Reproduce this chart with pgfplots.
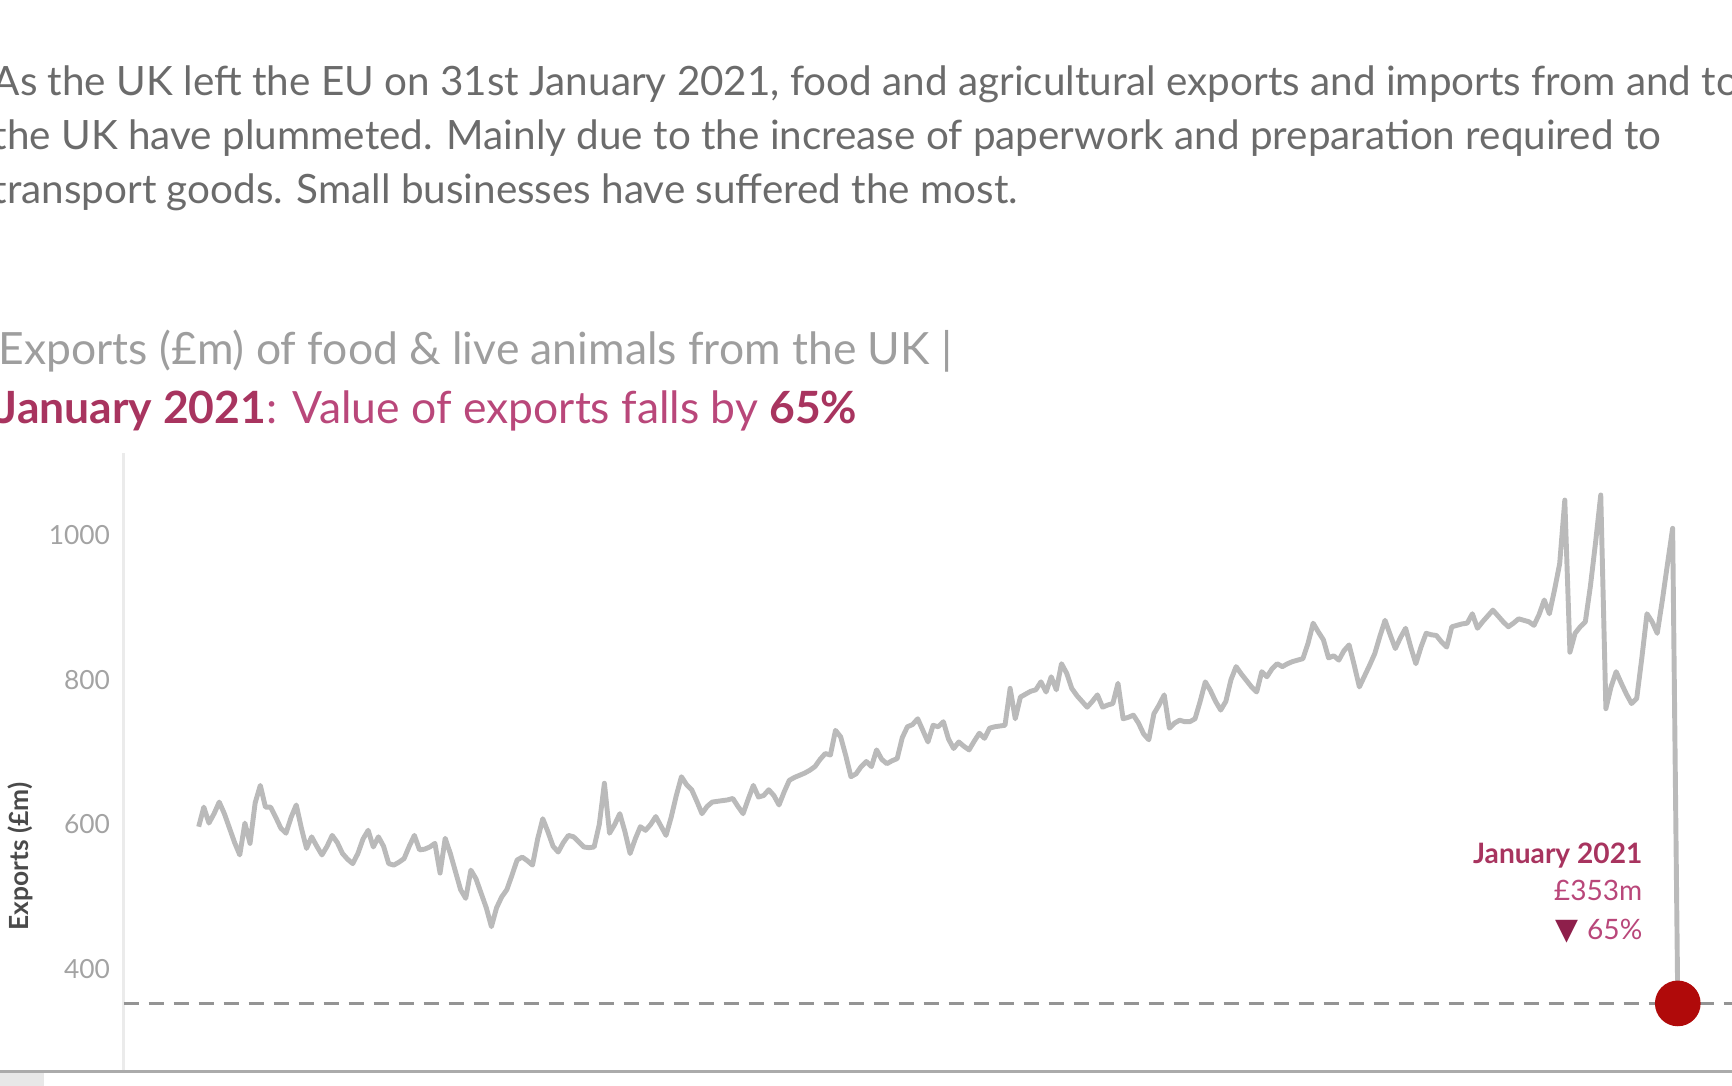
\documentclass[border=0pt]{standalone}
\usepackage{pgfplots}
\pgfplotsset{compat=1.18}
\usepackage{fontspec}
\setmainfont{Lato}
\newfontfamily\symfont{DejaVu Sans}
\definecolor{paratext}{HTML}{6B6B6B}
\definecolor{titlegray}{HTML}{9E9E9E}
\definecolor{crim}{HTML}{B9477A}
\definecolor{crimdark}{HTML}{A8345F}
\definecolor{tri}{HTML}{8E1F4B}
\definecolor{linegray}{HTML}{BABABA}
\definecolor{dotred}{HTML}{B00A0A}
\definecolor{ticklab}{HTML}{A3A3A3}
\definecolor{ylab}{HTML}{4A4A4A}

\pgfplotstableread{
m v
0 597
1 624
2 602
3 615
4 631
5 615
6 595
7 575
8 558
9 602
10 574
11 630
12 654
13 624
14 624
15 610
16 595
17 588
18 610
19 627
20 595
21 567
22 583
23 570
24 558
25 570
26 585
27 575
28 560
29 552
30 546
31 560
32 580
33 592
34 569
35 583
36 570
37 546
38 544
39 548
40 553
41 570
42 585
43 565
44 566
45 569
46 574
47 533
48 581
49 560
50 535
51 510
52 498
53 537
54 525
55 505
56 485
57 459
58 485
59 500
60 510
61 530
62 551
63 555
64 550
65 544
66 580
67 608
68 590
69 570
70 562
71 575
72 585
73 583
74 576
75 569
76 568
77 569
78 600
79 657
80 588
81 600
82 615
83 590
84 560
85 580
86 597
87 592
88 600
89 611
90 598
91 585
92 610
93 640
94 666
95 655
96 648
97 632
98 615
99 625
100 631
101 632
102 633
103 634
104 636
105 625
106 615
107 635
108 654
109 638
110 640
111 648
112 640
113 627
114 645
115 661
116 665
117 668
118 671
119 675
120 680
121 690
122 698
123 696
124 730
125 721
126 695
127 666
128 670
129 680
130 687
131 680
132 703
133 690
134 684
135 688
136 691
137 720
138 735
139 738
140 746
141 730
142 714
143 737
144 735
145 742
146 718
147 705
148 714
149 708
150 703
151 715
152 726
153 719
154 733
155 735
156 736
157 737
158 788
159 746
160 776
161 780
162 784
163 786
164 797
165 783
166 804
167 786
168 822
169 809
170 788
171 778
172 770
173 762
174 770
175 779
176 762
177 765
178 767
179 795
180 746
181 748
182 751
183 740
184 725
185 717
186 753
187 765
188 779
189 733
190 740
191 744
192 742
193 742
194 746
195 770
196 797
197 785
198 770
199 758
200 770
201 800
202 818
203 808
204 799
205 790
206 783
207 811
208 804
209 815
210 822
211 818
212 822
213 825
214 827
215 829
216 850
217 878
218 866
219 855
220 830
221 833
222 827
223 840
224 848
225 820
226 790
227 805
228 820
229 836
230 860
231 882
232 862
233 843
234 858
235 871
236 845
237 822
238 845
239 864
240 862
241 861
242 852
243 845
244 873
245 875
246 877
247 878
248 891
249 871
250 880
251 888
252 896
253 888
254 880
255 873
256 878
257 884
258 882
259 880
260 875
261 890
262 910
263 891
264 924
265 960
266 1048
267 838
268 864
269 873
270 880
271 930
272 990
273 1055
274 760
275 790
276 811
277 795
278 780
279 767
280 774
281 830
282 891
283 880
284 864
285 910
286 960
287 1009
288 353
}\exports

\begin{document}
\begin{tikzpicture}[x=1cm,y=1cm]
\useasboundingbox (0,0) rectangle (17.32,10.86);
% intro paragraph
\begin{scope}[every node/.style={anchor=base west, inner sep=0pt, text=paratext, font=\fontsize{11.5}{14}\selectfont}]
\node at (-0.08,9.90) {As the UK left the EU on 31st January 2021, food and agricultural exports and imports from and to};
\node at (-0.08,9.36) {the UK have plummeted. Mainly due to the increase of paperwork and preparation required to};
\node at (-0.08,8.82) {transport goods. Small businesses have suffered the most.};
\end{scope}
% title
\node[anchor=base west, inner sep=0pt, text=titlegray, font=\fontsize{12.65}{15}\selectfont] at (-0.02,7.215) {Exports (£m) of food \& live animals from the UK |};
\node[anchor=base west, inner sep=0pt, text=crim, font=\fontsize{12.65}{15}\selectfont] at (-0.02,6.62) {\textcolor{crimdark}{\textbf{January 2021}}: Value of exports falls by \textcolor{crimdark}{\textbf{65\%}}};

\begin{axis}[
  at={(1.237cm,0.145cm)}, anchor=south west,
  scale only axis, width=16.08cm, height=6.185cm,
  xmin=-14.6, xmax=298.5, ymin=259, ymax=1113,
  axis x line=none,
  axis y line*=left,
  y axis line style={draw=black!8, line width=0.25mm},
  ytick={400,600,800,1000},
  major tick length=0pt,
  /pgf/number format/1000 sep={},
  /pgf/number format/assume math mode=true,
  yticklabel style={font=\fontsize{7.5}{9}\selectfont, text=ticklab, inner sep=0pt, xshift=-1.3mm},
  ylabel={\textbf{Exports (£m)}},
  ylabel style={font=\fontsize{7.5}{9}\selectfont, text=ylab, at={(axis description cs:-0.0645,0.348)}, anchor=center},
  clip=false,
]
\addplot[draw=black!42, dash pattern=on 1.5mm off 1mm, line width=0.32mm] coordinates {(-14.6,353) (298.5,353)};
\addplot[color=linegray, line width=1.4pt, line join=round, mark=none] table[x=m, y=v] {\exports};
\addplot[only marks, mark=*, mark size=6.3pt, color=dotred] coordinates {(288,353)};
\end{axis}

% annotation
\begin{scope}[every node/.style={anchor=base east, inner sep=0pt, font=\fontsize{8}{10}\selectfont}]
\node[text=crimdark] at (16.43,2.22) {\textbf{January 2021}};
\node[text=crim] at (16.43,1.85) {£353m};
\node[text=crim] at (16.43,1.46) {{\symfont\color{tri}\fontsize{8.5}{9}\selectfont ▼}\hspace{0.3em}65\%};
\end{scope}

% bottom rule and corner block
\fill[black!9] (0,0) rectangle (0.44,0.13);
\draw[black!33, line width=0.25mm] (0,0.145) -- (17.32,0.145);
\end{tikzpicture}
\end{document}
